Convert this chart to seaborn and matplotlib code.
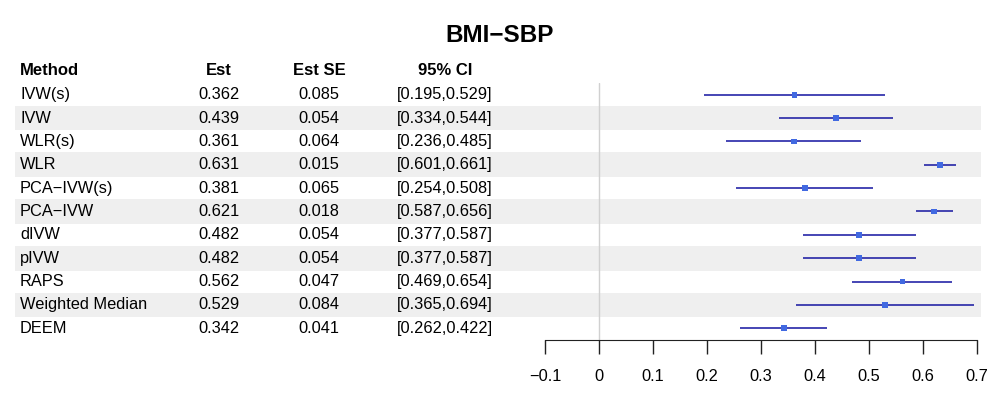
import pandas as pd
import matplotlib.pyplot as plt
import matplotlib.transforms as mtransforms
from matplotlib.patches import Rectangle
import seaborn as sns

methods = ['IVW(s)', 'IVW', 'WLR(s)', 'WLR', 'PCA\u2212IVW(s)', 'PCA\u2212IVW',
           'dIVW', 'pIVW', 'RAPS', 'Weighted Median', 'DEEM']
est = [0.362, 0.439, 0.361, 0.631, 0.381, 0.621, 0.482, 0.482, 0.562, 0.529, 0.342]
se = [0.085, 0.054, 0.064, 0.015, 0.065, 0.018, 0.054, 0.054, 0.047, 0.084, 0.041]
lo = [0.195, 0.334, 0.236, 0.601, 0.254, 0.587, 0.377, 0.377, 0.469, 0.365, 0.262]
hi = [0.529, 0.544, 0.485, 0.661, 0.508, 0.656, 0.587, 0.587, 0.654, 0.694, 0.422]
xticks = [-0.1, 0, 0.1, 0.2, 0.3, 0.4, 0.5, 0.6, 0.7]
xtick_labels = ['\u22120.1', '0', '0.1', '0.2', '0.3', '0.4', '0.5', '0.6', '0.7']

df = pd.DataFrame({'method': methods, 'est': est, 'se': se, 'lo': lo, 'hi': hi})
df['row'] = range(len(df))

sns.set_style('white')
plt.rcParams['font.family'] = ['Liberation Sans', 'DejaVu Sans']
plt.rcParams['text.color'] = 'black'
plt.rcParams['xtick.color'] = 'black'

fig = plt.figure(figsize=(10, 4), dpi=100)
ax = fig.add_axes([0.545, 0.15, 0.432, 0.6425])
ax.set_xlim(-0.1, 0.7)
ax.set_ylim(10.5, -0.5)

# x in figure fraction, y in data rows
trans = mtransforms.blended_transform_factory(fig.transFigure, ax.transData)

# alternating row shading
for r in df['row']:
    if r % 2 == 1:
        ax.add_patch(Rectangle((0.015, r - 0.53), 0.966, 1.06, transform=trans,
                               facecolor='#efefef', edgecolor='none', clip_on=False, zorder=0))

ax.axvline(0, color='#d0d0d0', lw=1, zorder=1)
ax.hlines(df['row'], df['lo'], df['hi'], color='#1414a0', lw=1.1, zorder=2)
sns.scatterplot(data=df, x='est', y='row', marker='s', color='#4169e1', s=17,
                edgecolor='none', ax=ax, zorder=3)

# table text
hdr = dict(fontsize=12, fontweight='bold', transform=trans, va='center')
ax.text(0.02, -1.05, 'Method', ha='left', **hdr)
ax.text(0.219, -1.05, 'Est', ha='center', **hdr)
ax.text(0.319, -1.05, 'Est SE', ha='center', **hdr)
ax.text(0.445, -1.05, '95% CI', ha='center', **hdr)
for _, d in df.iterrows():
    kw = dict(fontsize=11.8, transform=trans, va='center')
    ax.text(0.02, d['row'], d['method'], ha='left', **kw)
    ax.text(0.219, d['row'], f"{d['est']:.3f}", ha='center', **kw)
    ax.text(0.319, d['row'], f"{d['se']:.3f}", ha='center', **kw)
    ax.text(0.445, d['row'], f"[{d['lo']:.3f},{d['hi']:.3f}]", ha='center', **kw)

ax.set_xticks(xticks)
ax.set_xticklabels(xtick_labels, fontsize=11.8)
ax.set_yticks([])
ax.set_xlabel('')
ax.set_ylabel('')
for s in ['top', 'right', 'left']:
    ax.spines[s].set_visible(False)
ax.spines['bottom'].set_color('#222222')
ax.tick_params(axis='x', direction='out', length=10, width=1, color='#222222', pad=11, bottom=True)

fig.suptitle('BMI\u2212SBP', fontsize=17.5, fontweight='bold', y=0.94)
fig.savefig('out.png', dpi=100)
